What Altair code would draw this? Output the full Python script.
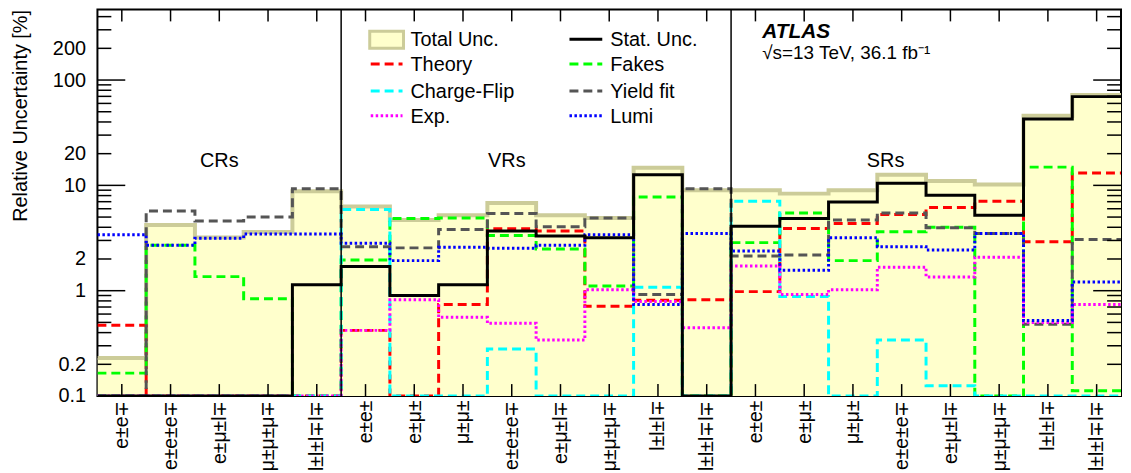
import json
import altair as alt
import pandas as pd

# ---------------- data ----------------
categories = ["e±e∓", "e±e±e∓", "e±μ±l∓", "μ±μ±μ∓", "l±l±l∓l∓",
              "e±e±", "e±μ±", "μ±μ±", "e±e±e∓", "e±μ±l∓", "μ±μ±μ∓", "l±l±l∓", "l±l±l∓l∓",
              "e±e±", "e±μ±", "μ±μ±", "e±e±e∓", "e±μ±l∓", "μ±μ±μ∓", "l±l±l∓", "l±l±l∓l∓"]

total_unc = [0.23, 4.2, 3.2, 3.6, 8.8,
             6.3, 4.7, 5.2, 6.8, 5.2, 4.9, 14.7, 9.0,
             9.0, 8.35, 9.0, 12.6, 11.0, 10.2, 45.8, 72.1]
stat_unc = [0, 0, 0, 0, 1.14,
            1.70, 0.90, 1.14, 3.68, 3.30, 3.18, 12.6, 0,
            4.1, 4.85, 6.96, 10.5, 8.05, 5.2, 42.6, 69.6]
theory = [0.47, 0, 0, 0, 0,
          0.42, 0, 0.74, 3.87, 3.68, 0.71, 0.81, 0.82,
          0.98, 3.9, 4.35, 5.3, 6.16, 7.06, 2.92, 13.1]
fakes = [0.165, 2.7, 1.36, 0.84, 0,
         1.96, 4.85, 4.9, 3.35, 2.49, 1.11, 7.76, 0,
         2.86, 5.48, 1.93, 3.63, 4.01, 0, 14.9, 0.112]
charge_flip = [0, 0, 0, 0, 0,
               5.9, 0, 0, 0.28, 0, 0, 1.08, 0,
               7.06, 0.88, 0, 0.34, 0.125, 0, 0, 0]
yield_fit = [0, 5.7, 4.6, 5.0, 9.3,
             2.62, 2.55, 3.82, 5.4, 4.04, 4.9, 0.92, 9.3,
             2.14, 2.18, 4.68, 5.48, 3.96, 3.5, 0.48, 3.07]
exp_unc = [0, 0, 0, 0, 0,
           0.42, 0.82, 0.56, 0.49, 0.34, 1.02, 0.79, 0.445,
           1.72, 0.92, 1.02, 1.67, 1.35, 2.08, 0.50, 0.74]
lumi = [3.4, 2.7, 3.15, 3.45, 3.45,
        2.82, 1.93, 2.58, 2.53, 2.7, 3.4, 0.74, 3.5,
        2.38, 1.56, 3.18, 2.62, 2.44, 3.5, 0.52, 1.21]

region_names = ["CRs", "VRs", "SRs"]
region_label_x = [2.5, 8.4, 16.17]
region_label_y = [15.1, 15.1, 15.1]
region_dividers = [5, 13]

y_label_values = [0.1, 0.2, 1, 2, 10, 20, 100, 200]
y_major = [1, 10, 100]
y_minor = [0.2, 0.3, 0.4, 0.5, 0.6, 0.7, 0.8, 0.9,
           2, 3, 4, 5, 6, 7, 8, 9,
           20, 30, 40, 50, 60, 70, 80, 90,
           200, 300, 400]

# ---------------- layout ----------------
W, H = 1030, 389
FLOOR = 0.1
FONT = "Liberation Sans"
NB = len(categories)

xs = alt.Scale(domain=[0, NB], nice=False, zero=False)
ys = alt.Scale(type="log", domain=[0.1, 468], nice=False)

xaxis = alt.Axis(values=[i + 0.5 for i in range(NB)],
                 labelExpr=json.dumps(categories, ensure_ascii=False) + "[floor(datum.value)]",
                 labelAngle=270, labelFontSize=19.5, labelFont=FONT, labelColor="black",
                 labelPadding=4, labelOverlap=False, labelFlush=False,
                 ticks=False, domain=False, grid=False, title=None)
yaxis = alt.Axis(values=y_label_values, format="~g", labelFontSize=20, labelFont=FONT,
                 labelColor="black", labelPadding=12, labelOverlap=False, labelFlush=False,
                 ticks=False, domain=False, grid=False,
                 title="Relative Uncertainty [%]", titleFontSize=20, titleFont=FONT,
                 titleFontWeight="normal", titleColor="black",
                 titleX=-77, titleY=0, titleAngle=270, titleAlign="right",
                 titleBaseline="middle")


def X(field):
    return alt.X(field, type="quantitative", scale=xs, axis=xaxis)


def Y(field):
    return alt.Y(field, type="quantitative", scale=ys, axis=yaxis)


def step_df(vals):
    v = [max(a, FLOOR) for a in vals]
    return pd.DataFrame({"x": list(range(NB + 1)), "y": v + [v[-1]], "base": [FLOOR] * (NB + 1)})


layers = []

# total uncertainty: fill + outline
tdf = step_df(total_unc)
layers.append(alt.Chart(tdf).mark_area(interpolate="step-after", color="#ffffcc", clip=True)
              .encode(x=X("x"), y=Y("y"), y2="base"))
layers.append(alt.Chart(tdf).mark_line(interpolate="step-after", color="#cccc99",
                                       strokeWidth=4, clip=True)
              .encode(x=X("x"), y=Y("y")))

DASH = [9, 5]
DOT = [2.5, 2.5]
GREEN = "#00ff00"
series = [
    (theory, "#ff0000", DASH),
    (fakes, GREEN, DASH),
    (charge_flip, "#00ffff", DASH),
    (yield_fit, "#555555", DASH),
    (exp_unc, "#ff00ff", DOT),
    (lumi, "#0000ff", DOT),
]
for vals, col, dash in series:
    layers.append(alt.Chart(step_df(vals)).mark_line(interpolate="step-after", color=col,
                                                     strokeDash=dash, strokeWidth=3, clip=True)
                  .encode(x=X("x"), y=Y("y")))
layers.append(alt.Chart(step_df(stat_unc)).mark_line(interpolate="step-after", color="black",
                                                     strokeWidth=3, clip=True)
              .encode(x=X("x"), y=Y("y")))

# region dividers
layers.append(alt.Chart(pd.DataFrame({"x": region_dividers})).mark_rule(color="black", strokeWidth=1.5)
              .encode(x=X("x"), y=alt.value(0), y2=alt.value(H)))

# region labels
layers.append(alt.Chart(pd.DataFrame({"x": region_label_x, "y": region_label_y, "t": region_names}))
              .mark_text(fontSize=20, font=FONT, color="black", baseline="alphabetic", align="center")
              .encode(x=X("x"), y=Y("y"), text="t:N"))

# inward ticks (ROOT style)
centers = pd.DataFrame({"x": [i + 0.5 for i in range(NB)]})
layers.append(alt.Chart(centers).mark_rule(color="black", strokeWidth=1.5)
              .encode(x=X("x"), y=alt.value(H), y2=alt.value(H - 12)))
layers.append(alt.Chart(centers).mark_rule(color="black", strokeWidth=1.5)
              .encode(x=X("x"), y=alt.value(0), y2=alt.value(12)))
for vals, ln in [(y_major, 28), (y_minor, 14)]:
    d = pd.DataFrame({"y": vals})
    layers.append(alt.Chart(d).mark_rule(color="black", strokeWidth=1.5)
                  .encode(y=Y("y"), x=alt.value(0), x2=alt.value(ln)))
    layers.append(alt.Chart(d).mark_rule(color="black", strokeWidth=1.5)
                  .encode(y=Y("y"), x=alt.value(W - ln), x2=alt.value(W)))

# legend (manual, ROOT style)
one = pd.DataFrame({"a": [0]})
rows = [30, 55, 82, 107]
legend_entries = [
    # (col, row, label, kind, color, dash)
    (0, 0, "Total Unc.", "box", None, None),
    (1, 0, "Stat. Unc.", "line", "black", None),
    (0, 1, "Theory", "line", "#ff0000", DASH),
    (1, 1, "Fakes", "line", GREEN, DASH),
    (0, 2, "Charge-Flip", "line", "#00ffff", DASH),
    (1, 2, "Yield fit", "line", "#555555", DASH),
    (0, 3, "Exp.", "line", "#ff00ff", DOT),
    (1, 3, "Lumi", "line", "#0000ff", DOT),
]
sym_x = [(275, 307), (475, 508)]
txt_x = [315, 516]
for c, r, lab, kind, col, dash in legend_entries:
    yy = rows[r]
    x1, x2 = sym_x[c]
    if kind == "box":
        layers.append(alt.Chart(one).mark_rect(fill="#ffffcc", stroke="#cccc99", strokeWidth=3)
                      .encode(x=alt.value(x1 - 1), x2=alt.value(x2 + 1),
                              y=alt.value(yy - 8), y2=alt.value(yy + 9)))
    else:
        kw = dict(color=col, strokeWidth=3)
        if dash:
            kw["strokeDash"] = dash
        layers.append(alt.Chart(one).mark_rule(**kw)
                      .encode(x=alt.value(x1), x2=alt.value(x2), y=alt.value(yy)))
    layers.append(alt.Chart(one).mark_text(text=lab, fontSize=20, font=FONT, color="black",
                                           align="left", baseline="middle")
                  .encode(x=alt.value(txt_x[c]), y=alt.value(yy + 1)))

# ATLAS label
layers.append(alt.Chart(one).mark_text(text="ATLAS", fontSize=21, font=FONT, fontWeight="bold",
                                       fontStyle="italic", color="black", align="left",
                                       baseline="alphabetic")
              .encode(x=alt.value(669), y=alt.value(29)))
layers.append(alt.Chart(one).mark_text(text="√s=13 TeV, 36.1 fb⁻¹", fontSize=19, font=FONT,
                                       color="black", align="left", baseline="alphabetic")
              .encode(x=alt.value(669), y=alt.value(50)))

chart = alt.layer(*layers).properties(
    width=W, height=H,
    autosize=alt.AutoSizeParams(type="none"),
    padding={"left": 90, "top": 0, "right": 2, "bottom": 76},
).configure(font=FONT).configure_view(stroke="black", strokeWidth=2)

chart.save("out.html", embed_options={"renderer": "svg", "actions": False})
